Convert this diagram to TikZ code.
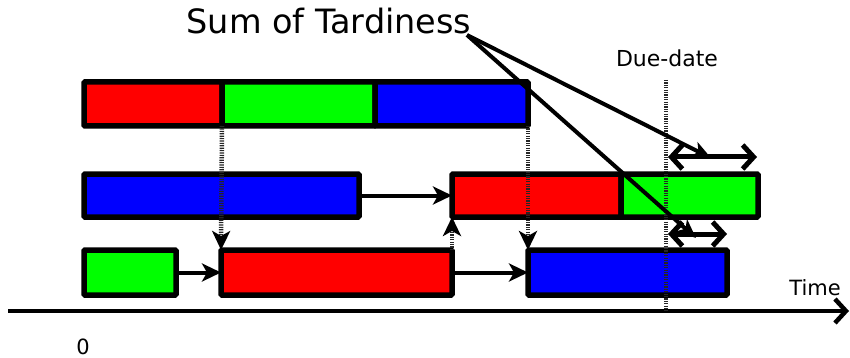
\documentclass[tikz,border=0pt]{standalone}
\usepackage{fontspec}
\setmainfont{DejaVu Sans}
\usetikzlibrary{arrows.meta}
\begin{document}
\begin{tikzpicture}[x=1pt,y=-1pt,
  bar/.style={draw=black,line width=5.5pt,rounded corners=1pt,inner sep=0pt,outer sep=0pt},
  flow/.style={line width=4pt,-{Stealth[length=19pt,width=18pt,inset=5pt]}},
  dotline/.style={line width=4.5pt,draw=black!85,dash pattern=on 1.2pt off 1.2pt},
  dotarrow/.style={dotline,-{Stealth[length=19pt,width=18pt,inset=5pt,color=black]}},
  span/.style={line width=5pt,{Straight Barb[length=11pt,width=24pt,line width=5pt]}-{Straight Barb[length=11pt,width=24pt,line width=5pt]}},
  pointer/.style={line width=4pt,-{Stealth[length=19pt,width=16pt,inset=5pt]}},
  lab/.style={inner sep=0pt}]
\useasboundingbox (0,0) rectangle (850,358);
% top row
\node[bar,fill=red,minimum width=138pt,minimum height=44pt] (t1) at (153,104) {};
\node[bar,fill=green,minimum width=153pt,minimum height=44pt] (t2) at (298.5,104) {};
\node[bar,fill=blue,minimum width=153pt,minimum height=44pt] (t3) at (451.5,104) {};
% middle row
\node[bar,fill=blue,minimum width=275pt,minimum height=43pt] (m1) at (221.5,195.5) {};
\node[bar,fill=red,minimum width=169pt,minimum height=43pt] (m2) at (536.5,195.5) {};
\node[bar,fill=green,minimum width=137pt,minimum height=43pt] (m3) at (689.5,195.5) {};
% bottom row
\node[bar,fill=green,minimum width=92pt,minimum height=45pt] (b1) at (130,272.5) {};
\node[bar,fill=red,minimum width=231pt,minimum height=45pt] (b2) at (336.5,272.5) {};
\node[bar,fill=blue,minimum width=199pt,minimum height=45pt] (b3) at (627.5,272.5) {};
% flow arrows
\draw[flow] (m1.east) -- (m2.west);
\draw[flow] (b1.east) -- (b2.west);
\draw[flow] (b2.east) -- (b3.west);
% dotted dependencies
\draw[dotarrow] (t1.south east) -- (b2.north west);
\draw[dotarrow] (t3.south east) -- (b3.north west);
\draw[dotarrow] (b2.north east) -- (m2.south west);
% axis
\coordinate (ax0) at (8,311);
\coordinate (ax1) at (849,311);
\draw[line width=4.5pt,-{Straight Barb[length=11pt,width=24pt,line width=4.5pt]}] (ax0) -- (ax1);
% due date
\coordinate (dd0) at (666,80);
\coordinate (dd1) at (666,311);
\draw[dotline] (dd0) -- (dd1);
% tardiness spans
\coordinate (s1a) at (668,157);
\coordinate (s1b) at (757,157);
\coordinate (s2a) at (668,234);
\coordinate (s2b) at (727,234);
\draw[span] (s1a) -- (s1b);
\draw[span] (s2a) -- (s2b);
% labels
\node[lab,font=\fontsize{33.5}{40}\selectfont] (title) at (329,21) {Sum of Tardiness};
\node[lab,font=\fontsize{22}{26}\selectfont] (due) at (667,58) {Due-date};
\node[lab,font=\fontsize{21}{25}\selectfont] (time) at (815,288) {Time};
\node[lab,font=\fontsize{21}{25}\selectfont] (zero) at (83,347) {0};
\coordinate (src) at (467,35);
\coordinate (p1) at (711,158);
\coordinate (p2) at (696,238);
\draw[pointer] (src) -- (p1);
\draw[pointer] (src) -- (p2);
\end{tikzpicture}
\end{document}
